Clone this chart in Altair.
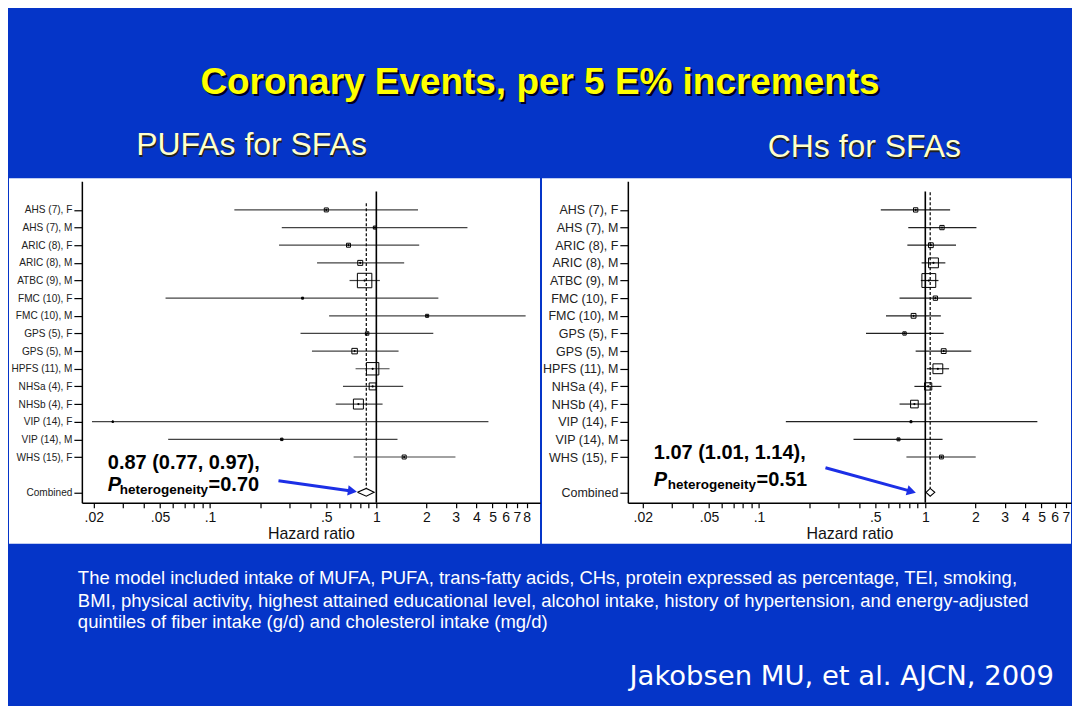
import altair as alt
import pandas as pd

# ---------------- data ----------------
studies = ["AHS (7), F", "AHS (7), M", "ARIC (8), F", "ARIC (8), M", "ATBC (9), M",
           "FMC (10), F", "FMC (10), M", "GPS (5), F", "GPS (5), M", "HPFS (11), M",
           "NHSa (4), F", "NHSb (4), F", "VIP (14), F", "VIP (14), M", "WHS (15), F"]
combined_label = "Combined"

pufa_hr = [0.50, 0.98, 0.68, 0.80, 0.85, 0.36, 2.02, 0.88, 0.74, 0.95, 0.95, 0.78, 0.026, 0.27, 1.47]
pufa_lo = [0.14, 0.27, 0.26, 0.44, 0.69, 0.054, 0.52, 0.35, 0.41, 0.75, 0.63, 0.57, 0.0195, 0.056, 0.73]
pufa_hi = [1.78, 3.53, 1.81, 1.47, 1.05, 2.36, 7.9, 2.2, 1.36, 1.20, 1.45, 1.09, 4.72, 1.34, 2.99]
pufa_wt = [2.4, 1.4, 2.4, 3.8, 31.9, 0.6, 1.4, 1.8, 4.6, 23.4, 7.4, 15.2, 0.3, 0.9, 2.4]
pufa_pooled = [0.87, 0.77, 0.97]
pufa_phet = "0.70"

ch_hr = [0.875, 1.26, 1.08, 1.12, 1.05, 1.15, 0.85, 0.75, 1.29, 1.19, 1.04, 0.86, 0.82, 0.69, 1.25]
ch_lo = [0.54, 0.79, 0.78, 0.95, 0.94, 0.70, 0.58, 0.44, 0.875, 1.02, 0.86, 0.70, 0.145, 0.37, 0.77]
ch_hi = [1.41, 2.03, 1.53, 1.32, 1.20, 1.90, 1.24, 1.29, 1.89, 1.39, 1.25, 1.07, 4.72, 1.27, 2.01]
ch_wt = [2.8, 2.8, 3.5, 14.7, 29.2, 2.8, 3.5, 1.7, 3.5, 14.7, 8.1, 8.9, 0.6, 1.3, 2.2]
ch_pooled = [1.07, 1.01, 1.14]
ch_phet = "0.51"

x_tick_values = [0.02, 0.03, 0.04, 0.05, 0.06, 0.07, 0.08, 0.09,
                 0.1, 0.2, 0.3, 0.4, 0.5, 0.6, 0.7, 0.8, 0.9,
                 1, 2, 3, 4, 5, 6, 7, 8]
x_major = [0.02, 0.05, 0.1, 0.5, 1, 2, 3, 4, 5, 6, 7, 8]
x_major_labels = [".02", ".05", ".1", ".5", "1", "2", "3", "4", "5", "6", "7", "8"]

title_text = "Coronary Events, per 5 E% increments"
sub_left = "PUFAs for SFAs"
sub_right = "CHs for SFAs"
note_lines = [
    "The model included intake of MUFA, PUFA, trans-fatty acids, CHs, protein expressed as percentage, TEI, smoking,",
    "BMI, physical activity, highest attained educational level, alcohol intake, history of hypertension, and energy-adjusted",
    "quintiles of fiber intake (g/d) and cholesterol intake (mg/d)",
]
citation = "Jakobsen MU, et al. AJCN, 2009"

# ---------------- layout constants ----------------
BLUE = "#0535C8"
PH = 322           # plot height
LW, RW = 459, 444  # plot widths
Y_DOM = [-0.62, 17.59]
COMB_ROW = len(studies) + 2
DH = 0.22          # diamond half height (rows)
FONT = "Liberation Sans"

row_labels = [""] + studies + ["", combined_label]
label_expr = "[" + ",".join("'" + s + "'" for s in row_labels) + "][round(datum.value)]"
xlab_expr = ("indexof([" + ",".join(str(v) for v in x_major) + "], datum.value) < 0 ? '' : ["
             + ",".join("'" + s + "'" for s in x_major_labels) + "][indexof(["
             + ",".join(str(v) for v in x_major) + "], datum.value)]")


def txt(s, x, y, size, color, weight="normal", style="normal", align="left", font=FONT):
    return alt.Chart(pd.DataFrame({"t": [s]})).mark_text(
        align=align, baseline="middle", fontSize=size, color=color,
        fontWeight=weight, fontStyle=style, font=font
    ).encode(x=alt.value(x), y=alt.value(y), text="t:N")


def vrect(x, x2, y, y2, color):
    return alt.Chart(pd.DataFrame({"a": [0]})).mark_rect(color=color).encode(
        x=alt.value(x), x2=alt.value(x2), y=alt.value(y), y2=alt.value(y2))


def arrow(x0, y0, x1, y1, angle, color="#1c2fe6"):
    dx, dy = x1 - x0, y1 - y0
    n = (dx * dx + dy * dy) ** 0.5
    hx, hy = x1 - 5 * dx / n, y1 - 5 * dy / n
    line = alt.Chart(pd.DataFrame({"a": [0]})).mark_rule(color=color, strokeWidth=3).encode(
        x=alt.value(x0), y=alt.value(y0), x2=alt.value(hx - 3 * dx / n), y2=alt.value(hy - 3 * dy / n))
    head = alt.Chart(pd.DataFrame({"a": [0]})).mark_point(
        shape="triangle-right", filled=True, color=color, size=110, angle=angle, opacity=1
    ).encode(x=alt.value(hx), y=alt.value(hy))
    return [line, head]


def panel(hr, lo, hi, wt, pooled, phet, xdom, width, size_max, dash_top,
          white_x, ann, arr, extra, ylab_size, ci_color):
    df = pd.DataFrame({"study": studies, "row": list(range(1, len(studies) + 1)),
                       "hr": hr, "lo": lo, "hi": hi, "wt": wt})
    dia = pd.DataFrame({
        "hr": [pooled[1], pooled[0], pooled[2], pooled[0], pooled[1]],
        "row": [COMB_ROW, COMB_ROW - DH, COMB_ROW, COMB_ROW + DH, COMB_ROW],
        "o": [0, 1, 2, 3, 4]})
    pool_df = pd.DataFrame({"hr": [pooled[0]]})

    xs = alt.Scale(type="log", domain=xdom, nice=False)
    ys = alt.Scale(domain=Y_DOM, reverse=True, nice=False, zero=False)

    xaxis = alt.Axis(values=x_tick_values, labelExpr=xlab_expr, labelOverlap=False,
                     labelFlush=False, labelFont=FONT, labelFontSize=14, labelColor="#111",
                     tickColor="#000", tickSize=5, tickWidth=1.2, domainColor="#000",
                     domainWidth=1.5, grid=False, title="Hazard ratio", titleFont=FONT,
                     titleFontSize=16, titleFontWeight="normal", titleColor="#111",
                     titlePadding=1, labelPadding=3, zindex=1)
    yaxis = alt.Axis(values=list(range(1, len(studies) + 1)) + [COMB_ROW], labelExpr=label_expr,
                     labelOverlap=False, labelFont=FONT, labelFontSize=ylab_size, labelColor="#222",
                     tickColor="#000", tickSize=8, tickWidth=1.2, domainColor="#000",
                     domainWidth=1.5, grid=False, title="", labelPadding=2, zindex=1)

    X = lambda f: alt.X(f, scale=xs, axis=xaxis, title="Hazard ratio")
    Y = lambda f: alt.Y(f, scale=ys, axis=yaxis, title="")

    white = vrect(white_x[0], white_x[1], -3, 363, "#ffffff")

    ci = alt.Chart(df).mark_rule(color=ci_color, strokeWidth=1.2).encode(
        x=X("lo:Q"), x2="hi:Q", y=Y("row:Q"))
    ref1 = alt.Chart(pd.DataFrame({"v": [1], "y0": [-0.05], "y1": [Y_DOM[1]]})).mark_rule(
        color="#000", strokeWidth=1.6).encode(x=X("v:Q"), y=Y("y0:Q"), y2="y1:Q")
    dash_df = pool_df.assign(y0=[dash_top], y1=[COMB_ROW - DH])
    dash = alt.Chart(dash_df).mark_rule(color="#000", strokeWidth=1.2, strokeDash=[3, 2]).encode(
        x=X("hr:Q"), y=Y("y0:Q"), y2="y1:Q")
    boxes = alt.Chart(df).mark_square(filled=False, color="#000", strokeWidth=1, opacity=1).encode(
        x=X("hr:Q"), y=Y("row:Q"),
        size=alt.Size("wt:Q", scale=alt.Scale(domain=[0, 100], range=[0, size_max]), legend=None))
    dots = alt.Chart(df).mark_circle(color="#000", size=5, opacity=1).encode(
        x=X("hr:Q"), y=Y("row:Q"))
    diamond = alt.Chart(dia).mark_line(color="#000", strokeWidth=1.1).encode(
        x=X("hr:Q"), y=Y("row:Q"), order="o:Q")

    ax, ay1, ay2, hx, ex = ann
    ann_layers = [
        txt(f"{pooled[0]:.2f} ({pooled[1]:.2f}, {pooled[2]:.2f}),", ax, ay1, 20, "#000", weight="bold"),
        txt("P", ax, ay2, 20, "#000", weight="bold", style="italic"),
        txt("heterogeneity", hx, ay2 + 5, 13.5, "#000", weight="bold"),
        txt("=" + phet, ex, ay2, 20, "#000", weight="bold"),
    ]
    layers = extra[:1] + [white, ci, ref1, dash, boxes, dots, diamond] + ann_layers + arrow(*arr) + extra[1:]
    return alt.layer(*layers).properties(width=width, height=PH)


# left panel coordinates: page -> (x-81, y-180)
left_extra = [
    vrect(-73, 991, -172, 524, BLUE),
    txt(title_text, 461, -96, 37, "#000022", weight="bold", align="center"),
    txt(title_text, 459, -98, 37, "#FFFF00", weight="bold", align="center"),
    txt(sub_left, 171, -34, 32, "#202020", align="center"),
    txt(sub_left, 170, -36, 32, "#FFFFCC", align="center"),
    txt(note_lines[0], -4, 397, 18.5, "#ffffff"),
    txt(note_lines[1], -4, 420, 18.5, "#ffffff"),
    txt(note_lines[2], -4, 442, 18.5, "#ffffff"),
    txt(citation, 974, 497, 27.5, "#ffffff", align="right", font="DejaVu Sans"),
]
# right panel coordinates: page -> (x-628, y-180)
right_extra = [
    vrect(0, 1, 0, 1, "#ffffff"),
    txt(sub_right, 238, -32, 32, "#202020", align="center"),
    txt(sub_right, 237, -34, 32, "#FFFFCC", align="center"),
]

left = panel(pufa_hr, pufa_lo, pufa_hi, pufa_wt, pufa_pooled, pufa_phet,
             [0.01695, 9.64], LW, 658, 0.62, (-73, 459),
             (26, 282, 304, 38, 127), (197, 300, 276, 311, 7.9), left_extra, 10.1, "#444")
right = panel(ch_hr, ch_lo, ch_hi, ch_wt, ch_pooled, ch_phet,
              [0.01626, 7.52], RW, 720, 0.0, (-86, 444),
              (26, 272, 299, 40, 129), (198, 287, 289, 312, 15.4), right_extra, 12.5, "#222")

chart = alt.hconcat(left, right, spacing=88, bounds="flush").properties(
    background=BLUE, padding=0
).configure_view(stroke="transparent")

chart.save("out.html", embed_options={"renderer": "svg", "actions": False})
